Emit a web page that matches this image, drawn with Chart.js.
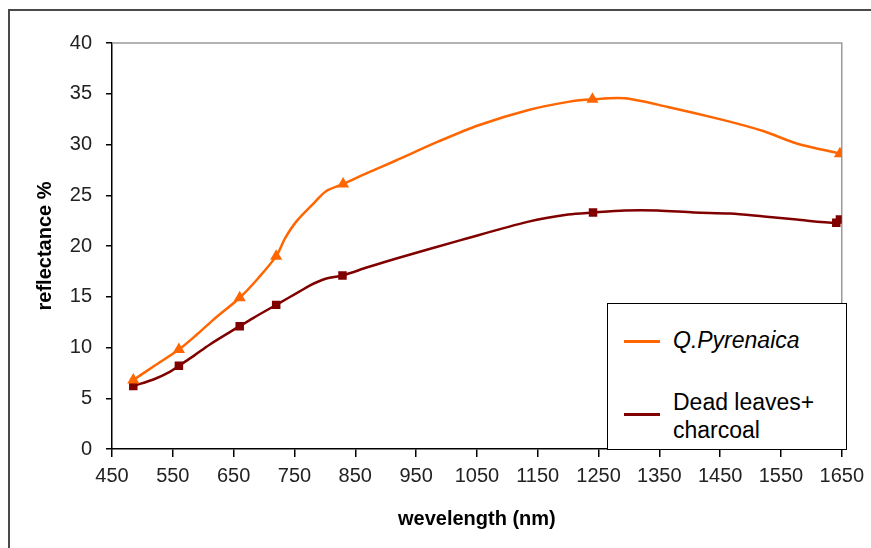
<!DOCTYPE html>
<html lang="en">
  <head>
    <meta charset="UTF-8" />
    <title>Reflectance spectra</title>
    <script src="https://cdn.jsdelivr.net/npm/chart.js"></script>
    <style>
      body {
        margin: 0;
        background: #fff;
        font-family: "Liberation Sans", Arial, sans-serif;
      }
      .wrap {
        position: relative;
        width: 871px;
        height: 548px;
        overflow: hidden;
      }
      .frame {
        position: absolute;
        left: 8px;
        top: 9px;
        width: 900px;
        height: 600px;
        border-left: 2px solid #4a4a4a;
        border-top: 2px solid #4a4a4a;
      }
      canvas {
        position: absolute;
        left: 0;
        top: 0;
      }
      .legend {
        position: absolute;
        left: 607px;
        top: 303px;
        width: 238px;
        height: 145px;
        border: 1.5px solid #000;
        background: #fff;
        color: #000;
        font-size: 23px;
      }
      .swatch {
        position: absolute;
        left: 16px;
        width: 36px;
        height: 3px;
      }
      .label {
        position: absolute;
        left: 65px;
        line-height: 28px;
        white-space: nowrap;
      }
    </style>
  </head>
  <body>
    <div class="wrap">
      <div class="frame"></div>
      <canvas id="chart" width="871" height="548"></canvas>
      <div class="legend">
        <div class="swatch" style="top: 36px; background: #ff6600"></div>
        <div class="label" style="top: 22px; font-style: italic">Q.Pyrenaica</div>
        <div class="swatch" style="top: 109px; background: #800000"></div>
        <div class="label" style="top: 84px">Dead leaves+<br />charcoal</div>
      </div>
    </div>

    <script>
      // wavelength (nm) / reflectance (%)
      const qWave = [485, 520, 560, 590, 616, 660, 690, 720, 735, 753, 780, 802, 830, 870, 916, 987, 1053, 1135, 1200, 1240, 1293, 1364, 1456, 1522, 1576, 1647];
      const qRefl = [6.8, 8.2, 9.8, 11.3, 12.7, 14.9, 16.8, 19.0, 20.8, 22.4, 24.1, 25.4, 26.1, 27.2, 28.4, 30.3, 31.9, 33.4, 34.2, 34.45, 34.55, 33.7, 32.4, 31.3, 30.1, 29.1];
      const qMarked = [485, 560, 660, 720, 830, 1240, 1647];

      const dWave = [485, 520, 545, 560, 585, 611, 660, 682, 720, 758, 775, 800, 829, 870, 919, 1025, 1135, 1200, 1241, 1293, 1347, 1407, 1467, 1522, 1576, 1641, 1647];
      const dRefl = [6.2, 6.9, 7.6, 8.2, 9.2, 10.3, 12.1, 12.9, 14.2, 15.5, 16.1, 16.75, 17.1, 17.9, 18.8, 20.6, 22.4, 23.1, 23.3, 23.5, 23.5, 23.3, 23.2, 22.9, 22.6, 22.3, 22.6];
      const dMarked = [485, 560, 660, 720, 829, 1241, 1641, 1647];

      const seriesNames = ["Q.Pyrenaica", "Dead leaves+charcoal"];

      function toPoints(xs, ys) {
        return xs.map((x, i) => ({ x: x, y: ys[i] }));
      }

      // grey top/right edge of the plot area
      const plotFrame = {
        id: "plotFrame",
        beforeDatasetsDraw(chart) {
          const { ctx, chartArea } = chart;
          ctx.save();
          ctx.strokeStyle = "#9a9a9a";
          ctx.lineWidth = 1.5;
          ctx.beginPath();
          ctx.moveTo(chartArea.left, chartArea.top);
          ctx.lineTo(chartArea.right, chartArea.top);
          ctx.lineTo(chartArea.right, chartArea.bottom);
          ctx.stroke();
          ctx.restore();
        },
      };

      const tickFont = { family: "'Liberation Sans', Arial, sans-serif", size: 20 };
      const titleFont = { family: "'Liberation Sans', Arial, sans-serif", size: 20, weight: "bold" };

      new Chart(document.getElementById("chart"), {
        type: "line",
        data: {
          datasets: [
            {
              label: seriesNames[0],
              data: toPoints(qWave, qRefl),
              borderColor: "#ff6600",
              backgroundColor: "#ff6600",
              borderWidth: 2.5,
              tension: 0.3,
              pointStyle: "triangle",
              pointRadius: (c) => (qMarked.includes(c.raw && c.raw.x) ? 7 : 0),
              pointBorderWidth: 0,
            },
            {
              label: seriesNames[1],
              data: toPoints(dWave, dRefl),
              borderColor: "#800000",
              backgroundColor: "#800000",
              borderWidth: 2.5,
              tension: 0.3,
              pointStyle: "rect",
              pointRadius: (c) => (dMarked.includes(c.raw && c.raw.x) ? 6 : 0),
              pointBorderWidth: 0,
            },
          ],
        },
        options: {
          responsive: false,
          animation: false,
          layout: { padding: { left: 0, right: 25, top: 43, bottom: 0 } },
          plugins: {
            legend: { display: false },
            tooltip: { enabled: false },
          },
          scales: {
            x: {
              type: "linear",
              min: 450,
              max: 1650,
              afterFit: (scale) => {
                scale.height = 99;
              },
              ticks: {
                stepSize: 100,
                color: "#222",
                font: tickFont,
                padding: 7,
                maxRotation: 0,
                callback: (v) => String(v),
              },
              grid: { drawOnChartArea: false, tickLength: 8, color: "#000", lineWidth: 1.5 },
              border: { color: "#000", width: 1.5 },
              title: {
                display: true,
                text: "wevelength (nm)",
                color: "#000",
                font: titleFont,
                padding: { top: 0, bottom: 17 },
              },
            },
            y: {
              min: 0,
              max: 40,
              afterFit: (scale) => {
                scale.width = 112;
              },
              ticks: { stepSize: 5, color: "#222", font: tickFont, padding: 14 },
              grid: { drawOnChartArea: false, tickLength: 6, color: "#000", lineWidth: 1.5 },
              border: { color: "#000", width: 1.5 },
              title: {
                display: true,
                text: "reflectance %",
                color: "#000",
                font: titleFont,
                padding: { top: 33, bottom: 0 },
              },
            },
          },
        },
        plugins: [plotFrame],
      });
    </script>
  </body>
</html>
